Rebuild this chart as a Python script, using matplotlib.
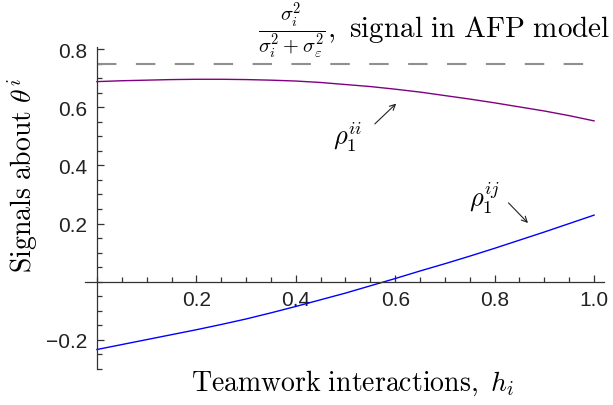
import matplotlib
matplotlib.use('Agg')
import matplotlib.pyplot as plt
from matplotlib.ticker import MultipleLocator

plt.rcParams['mathtext.fontset'] = 'cm'
plt.rcParams['lines.scale_dashes'] = False

# Data
h = [0.00, 0.05, 0.10, 0.15, 0.20, 0.25, 0.30, 0.35, 0.40, 0.45, 0.50,
     0.55, 0.60, 0.65, 0.70, 0.75, 0.80, 0.85, 0.90, 0.95, 1.00]
rho_ii = [0.688, 0.691, 0.693, 0.695, 0.696, 0.696, 0.695, 0.693, 0.690, 0.685, 0.678,
          0.671, 0.662, 0.652, 0.640, 0.628, 0.615, 0.601, 0.587, 0.571, 0.553]
rho_ij = [-0.233, -0.216, -0.199, -0.182, -0.165, -0.147, -0.128, -0.107, -0.085, -0.062, -0.039,
          -0.014, 0.011, 0.037, 0.062, 0.088, 0.115, 0.143, 0.171, 0.200, 0.229]
afp_signal = 0.75

x_ticks = [0.2, 0.4, 0.6, 0.8, 1.0]
x_ticklabels = ['0.2', '0.4', '0.6', '0.8', '1.0']
y_ticks = [-0.2, 0.2, 0.4, 0.6, 0.8]
y_ticklabels = ['\u22120.2', '0.2', '0.4', '0.6', '0.8']

W, H = 613, 406
fig = plt.figure(figsize=(W / 100, H / 100), dpi=100)
ax = fig.add_axes([85 / W, 36 / H, 519 / W, 322 / H])
ax.set_xlim(-0.024, 1.02)
ax.set_ylim(-0.30, 0.807)

# curves
ax.plot([0, 1], [afp_signal, afp_signal], color='#8f8f8f', lw=1.5, dashes=(14, 14))
ax.plot(h, rho_ii, color=(0.5, 0, 0.5), lw=1.0)
ax.plot(h, rho_ij, color=(0, 0, 1), lw=1.0)

# Mathematica-style axes crossing at the origin
for side in ['top', 'right']:
    ax.spines[side].set_visible(False)
ax.spines['left'].set_position(('data', 0))
ax.spines['bottom'].set_position(('data', 0))
for side in ['left', 'bottom']:
    ax.spines[side].set_color('#333333')
    ax.spines[side].set_linewidth(0.9)

ax.set_xticks(x_ticks)
ax.set_xticklabels(x_ticklabels, family='Liberation Sans', fontsize=15, color='#222222')
ax.set_yticks(y_ticks)
ax.set_yticklabels(y_ticklabels, family='Liberation Sans', fontsize=15, color='#222222')
ax.xaxis.set_minor_locator(MultipleLocator(0.05))
ax.yaxis.set_minor_locator(MultipleLocator(0.05))
ax.tick_params(which='both', direction='in', color='#333333', width=0.9)
ax.tick_params(axis='x', which='major', length=5, pad=6)
ax.tick_params(axis='y', which='major', length=5, pad=7)
ax.tick_params(which='minor', length=3.5)

# labels
fig.text(353 / W, 1 - 383 / H, r'$\mathrm{Teamwork\ interactions,}\ h_i$',
         fontsize=20, ha='center', va='center')
fig.text(24 / W, 1 - 176 / H, r'$\mathrm{Signals\ about}\ \theta^i$',
         fontsize=20, ha='center', va='center', rotation=90)
fig.text(610 / W, 1 - 31 / H,
         r'$\frac{\sigma_i^2}{\sigma_i^2+\sigma_\varepsilon^2},\ \mathrm{signal\ in\ AFP\ model}$',
         fontsize=21, ha='right', va='center')

# curve annotations
ax.text(0.505, 0.50, r'$\rho_1^{ii}$', fontsize=19, ha='center', va='center')
ax.annotate('', xy=(0.606, 0.619), xytext=(0.555, 0.536),
            arrowprops=dict(arrowstyle='->', lw=0.8, color='#222222'))
ax.text(0.779, 0.291, r'$\rho_1^{ij}$', fontsize=19, ha='center', va='center')
ax.annotate('', xy=(0.871, 0.195), xytext=(0.824, 0.278),
            arrowprops=dict(arrowstyle='->', lw=0.8, color='#222222'))

fig.savefig('out.png', dpi=100)
